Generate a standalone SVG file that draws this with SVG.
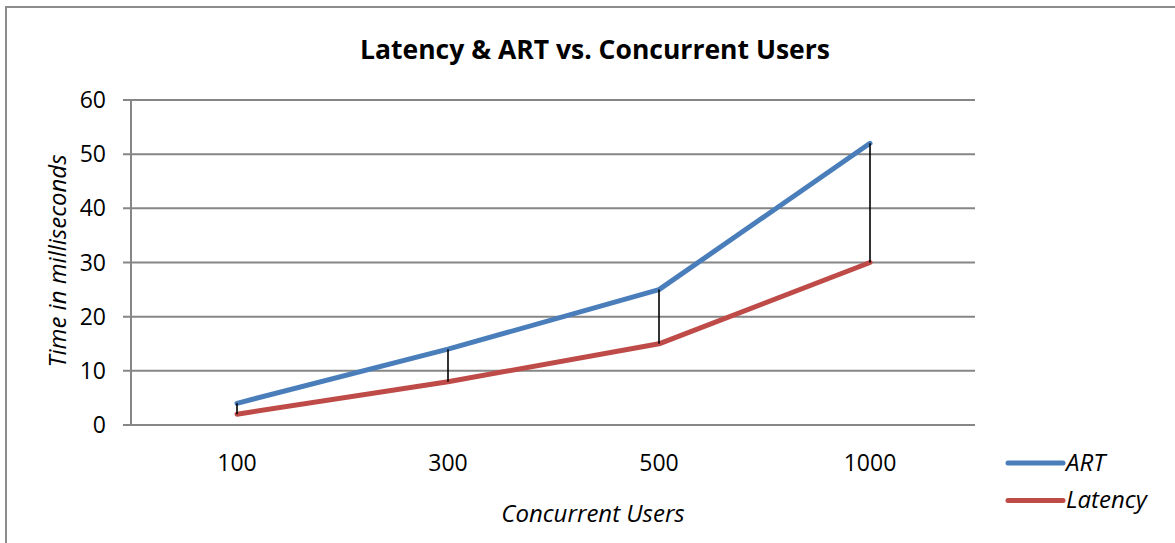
<svg xmlns="http://www.w3.org/2000/svg" width="1175" height="543" viewBox="0 0 1175 543">
  <style>
    .txt { font-family: "Open Sans", "Liberation Sans", sans-serif; fill: #000; }
    .tick { font-size: 23px; }
    .title { font-size: 26.5px; font-weight: bold; }
    .axis-title { font-size: 24px; font-style: italic; }
    .grid { stroke: #868686; stroke-width: 2; fill: none; }
    .series { fill: none; stroke-width: 5; stroke-linejoin: round; stroke-linecap: round; }
    .art { stroke: #4A7EBB; }
    .lat { stroke: #BE4B48; }
    .drop { stroke: #000; stroke-width: 1.6; }
  </style>
  <rect x="0" y="0" width="1175" height="543" fill="#fff"/>
  <!-- chart frame -->
  <rect x="6" y="7" width="1200" height="600" fill="none" stroke="#8c8c8c" stroke-width="2"/>

  <g id="title">
    <text class="txt title" x="595" y="59" text-anchor="middle">Latency &amp; ART vs. Concurrent Users</text>
  </g>

  <!-- gridlines and value axis -->
  <g id="grid">
    <line class="grid" x1="123" y1="100" x2="975" y2="100"/>
    <line class="grid" x1="123" y1="154.2" x2="975" y2="154.2"/>
    <line class="grid" x1="123" y1="208.3" x2="975" y2="208.3"/>
    <line class="grid" x1="123" y1="262.5" x2="975" y2="262.5"/>
    <line class="grid" x1="123" y1="316.7" x2="975" y2="316.7"/>
    <line class="grid" x1="123" y1="370.8" x2="975" y2="370.8"/>
    <line class="grid" x1="123" y1="425" x2="975" y2="425"/>
    <line class="grid" x1="131" y1="100" x2="131" y2="425"/>
  </g>

  <g id="y-labels" class="txt tick" text-anchor="end">
    <text x="106" y="108">60</text>
    <text x="106" y="162">50</text>
    <text x="106" y="216">40</text>
    <text x="106" y="271">30</text>
    <text x="106" y="325">20</text>
    <text x="106" y="379">10</text>
    <text x="106" y="433">0</text>
  </g>

  <g id="x-labels" class="txt tick" text-anchor="middle">
    <text x="237" y="471">100</text>
    <text x="448" y="471">300</text>
    <text x="659" y="471">500</text>
    <text x="870" y="471">1000</text>
  </g>

  <g id="y-axis-title">
    <text class="txt axis-title" transform="translate(66,261) rotate(-90)" text-anchor="middle">Time in milliseconds</text>
  </g>
  <g id="x-axis-title">
    <text class="txt axis-title" x="593" y="522" text-anchor="middle">Concurrent Users</text>
  </g>

  <!-- series and drop lines -->
  <g id="connectors">
    <polyline class="series lat" points="237,414.2 448,381.7 659,343.8 870,262.5"/>
    <polyline class="series art" points="237,403.3 448,349.2 659,289.6 870,143.3"/>
    <line class="drop" x1="237" y1="403.3" x2="237" y2="414.2"/>
    <line class="drop" x1="448" y1="349.2" x2="448" y2="381.7"/>
    <line class="drop" x1="659" y1="289.6" x2="659" y2="343.8"/>
    <line class="drop" x1="870" y1="143.3" x2="870" y2="262.5"/>
  </g>

  <g id="legend">
    <line class="series art" x1="1008" y1="463" x2="1063" y2="463"/>
    <text class="txt axis-title" x="1066" y="471">ART</text>
    <line class="series lat" x1="1008" y1="500.5" x2="1063" y2="500.5"/>
    <text class="txt axis-title" x="1066" y="508">Latency</text>
  </g>
</svg>
